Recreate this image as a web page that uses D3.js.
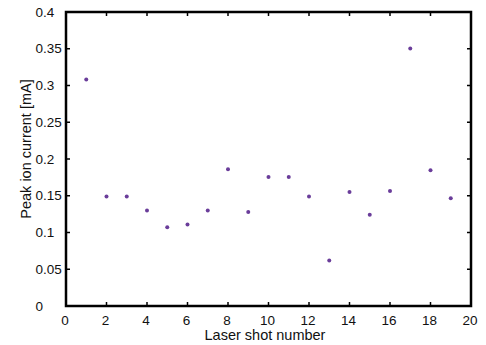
<!DOCTYPE html>
<html lang="en">
<head>
  <meta charset="utf-8">
  <script src="https://d3js.org/d3.v7.min.js"></script>
  <style>
    body { margin: 0; background: #fff; }
    text { font-family: "Liberation Sans", Arial, sans-serif; fill: #111; }
  </style>
</head>
<body>
<svg width="486" height="345"></svg>
<script>

// shot numbers and peak ion current (mA)
var shots = [1, 2, 3, 4, 5, 6, 7, 8, 9, 10, 11, 12, 13, 14, 15, 16, 17, 18, 19];
var current = [0.308, 0.149, 0.149, 0.130, 0.107, 0.111, 0.130, 0.186, 0.128, 0.1755,
               0.1755, 0.149, 0.062, 0.155, 0.124, 0.1565, 0.3505, 0.1846, 0.1465];
var xTicks = [0, 2, 4, 6, 8, 10, 12, 14, 16, 18, 20];
var yTicks = [0, 0.05, 0.1, 0.15, 0.2, 0.25, 0.3, 0.35, 0.4];

var svg = d3.select("svg");
var plotL = 66, plotR = 471, plotT = 12, plotB = 306;

var x = d3.scaleLinear().domain([0, 20]).range([plotL, plotR]);
var y = d3.scaleLinear().domain([0, 0.4]).range([plotB, plotT]);

// tick marks on all four sides, pointing inward
var g = svg.append("g").attr("stroke", "#000").attr("stroke-width", 1.5);
xTicks.forEach(function(t) {
  g.append("line").attr("x1", x(t)).attr("x2", x(t)).attr("y1", plotB).attr("y2", plotB - 4);
  g.append("line").attr("x1", x(t)).attr("x2", x(t)).attr("y1", plotT).attr("y2", plotT + 4);
});
yTicks.forEach(function(t) {
  g.append("line").attr("x1", plotL).attr("x2", plotL + 4).attr("y1", y(t)).attr("y2", y(t));
  g.append("line").attr("x1", plotR).attr("x2", plotR - 4).attr("y1", y(t)).attr("y2", y(t));
});

svg.append("rect")
    .attr("x", plotL).attr("y", plotT)
    .attr("width", plotR - plotL).attr("height", plotB - plotT)
    .attr("fill", "none").attr("stroke", "#000").attr("stroke-width", 2.5);

svg.selectAll(".xt").data(xTicks).enter().append("text")
    .attr("x", function(d) { return x(d) - 1; })
    .attr("y", 325)
    .attr("text-anchor", "middle")
    .style("font-size", "13.5px")
    .text(function(d) { return d; });

// y tick labels are left aligned in the reference
svg.selectAll(".yt").data(yTicks).enter().append("text")
    .attr("x", 35.5)
    .attr("y", function(d) { return y(d) + 4.5; })
    .attr("text-anchor", "start")
    .style("font-size", "13.5px")
    .text(function(d) { return d; });

svg.append("text")
    .attr("x", 265)
    .attr("y", 339.5)
    .attr("text-anchor", "middle")
    .style("font-size", "14.5px")
    .text("Laser shot number");

svg.append("text")
    .attr("transform", "translate(31,149) rotate(-90)")
    .attr("text-anchor", "middle")
    .style("font-size", "14.5px")
    .text("Peak ion current [mA]");

svg.selectAll(".pt").data(shots).enter().append("circle")
    .attr("cx", function(d) { return x(d); })
    .attr("cy", function(d, i) { return y(current[i]); })
    .attr("r", 2)
    .attr("fill", "#6a3d9a");

</script>
</body>
</html>
